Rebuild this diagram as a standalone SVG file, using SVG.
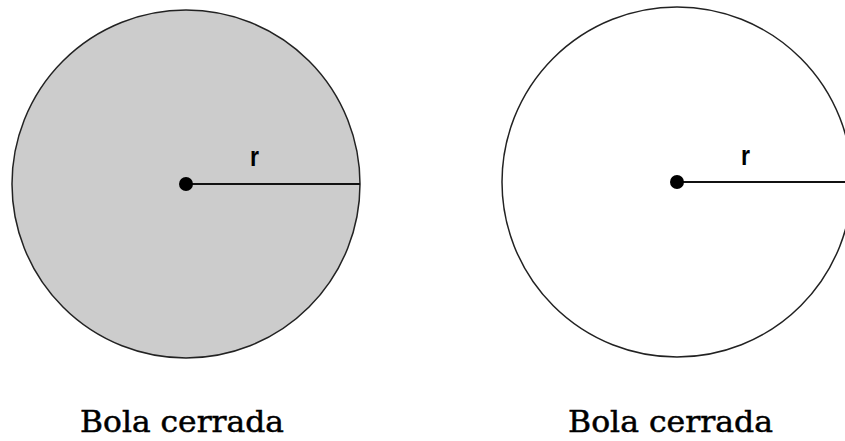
<svg xmlns="http://www.w3.org/2000/svg" width="845" height="441" viewBox="0 0 845 441">
  <style>
    .ball { stroke: #222; stroke-width: 1.5; }
    .radius { stroke: #111; stroke-width: 2; }
    .dot { fill: #000; }
    .r { font-family: "Liberation Sans", Arial, sans-serif; font-weight: bold; font-size: 28px; fill: #000; }
    .label { font-family: "DejaVu Serif", "Liberation Serif", serif; font-size: 29px; fill: #000; stroke: #000; stroke-width: 0.5; }
  </style>
  <rect width="845" height="441" fill="#fff"/>
  <g id="ball-left">
    <circle class="ball" cx="186" cy="184" r="174" fill="#cccccc"/>
    <text class="r" x="250" y="166" textLength="9" lengthAdjust="spacingAndGlyphs">r</text>
    <text class="label" x="80" y="432" textLength="204" lengthAdjust="spacingAndGlyphs">Bola cerrada</text>
  </g>
  <g id="ball-right">
    <circle class="ball" cx="677" cy="182" r="175" fill="#ffffff"/>
    <text class="r" x="741" y="165" textLength="9" lengthAdjust="spacingAndGlyphs">r</text>
    <text class="label" x="568" y="432" textLength="205" lengthAdjust="spacingAndGlyphs">Bola cerrada</text>
  </g>
  <g id="connectors">
    <line class="radius" x1="186" y1="184" x2="360" y2="184"/>
    <circle class="dot" cx="186" cy="184" r="7"/>
    <line class="radius" x1="677" y1="182" x2="852" y2="182"/>
    <circle class="dot" cx="677" cy="182" r="7"/>
  </g>
</svg>
